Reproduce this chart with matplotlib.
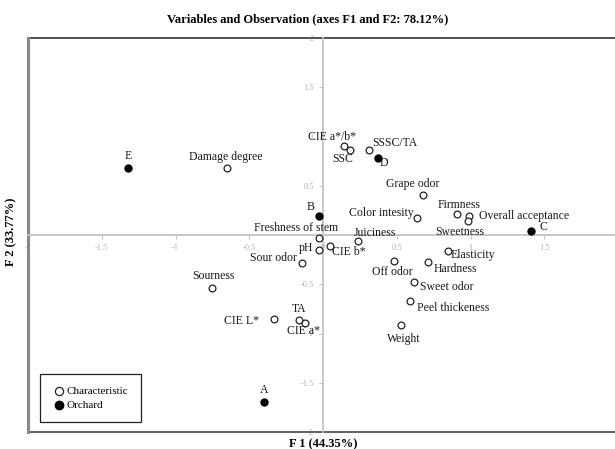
import matplotlib
matplotlib.use('Agg')
import matplotlib.pyplot as plt
import numpy as np

plt.rcParams['font.family'] = ['Liberation Serif', 'DejaVu Serif']

# variables (characteristics)
var_names = ['Damage degree', 'Sourness', 'CIE a*/b*', 'SSC', 'SSSC/TA', 'Grape odor',
             'Firmness', 'Overall acceptance', 'Sweetness', 'Color intesity',
             'Freshness of stem', 'Juiciness', 'pH', 'CIE b*', 'Sour odor', 'Off odor',
             'Hardness', 'Elasticity', 'Sweet odor', 'Peel thickeness', 'Weight',
             'TA', 'CIE a*', 'CIE L*']
var_f1 = [-0.65, -0.75, 0.14, 0.18, 0.31, 0.68,
          0.91, 0.99, 0.98, 0.64,
          -0.03, 0.24, -0.03, 0.05, -0.14, 0.48,
          0.71, 0.85, 0.62, 0.59, 0.53,
          -0.16, -0.12, -0.33]
var_f2 = [0.68, -0.54, 0.90, 0.86, 0.86, 0.41,
          0.21, 0.19, 0.14, 0.17,
          -0.03, -0.06, -0.15, -0.11, -0.28, -0.26,
          -0.27, -0.16, -0.48, -0.67, -0.91,
          -0.86, -0.89, -0.85]

# observations (orchards)
obs_names = ['A', 'B', 'C', 'D', 'E']
obs_f1 = [-0.40, -0.03, 1.41, 0.37, -1.32]
obs_f2 = [-1.70, 0.19, 0.04, 0.78, 0.68]

# label offsets in pixels (dx, dy)
var_off = {'Damage degree': (-1, 11), 'Sourness': (1, 12), 'CIE a*/b*': (-12, 9),
           'SSC': (-7, -9), 'SSSC/TA': (26, 7), 'Grape odor': (-11, 11),
           'Firmness': (2, 9), 'Overall acceptance': (55, 0), 'Sweetness': (-8, -11),
           'Color intesity': (-36, 5), 'Freshness of stem': (-23, 10),
           'Juiciness': (16, 8), 'pH': (-13, 2), 'CIE b*': (18, -6),
           'Sour odor': (-29, 5), 'Off odor': (-1, -11), 'Hardness': (28, -7),
           'Elasticity': (25, -4), 'Sweet odor': (32, -5), 'Peel thickeness': (43, -7),
           'Weight': (3, -14), 'TA': (0, 11), 'CIE a*': (-2, -8), 'CIE L*': (-33, -2)}
obs_off = {'A': (0, 12), 'B': (-8, 9), 'C': (12, 4), 'D': (6, -5), 'E': (0, 12)}

fig = plt.figure(figsize=(6.15, 4.49), dpi=100)
ax = fig.add_axes([28/615, 17/449, 590/615, 394/449])

ax.scatter(var_f1, var_f2, s=24, facecolors='white', edgecolors='#222222',
           linewidths=0.9, zorder=3, label='Characteristic')
ax.scatter(obs_f1, obs_f2, s=26, facecolors='black', edgecolors='black',
           linewidths=0.9, zorder=3, label='Orchard')

for n, x, y in zip(var_names, var_f1, var_f2):
    ax.annotate(n, (x, y), xytext=var_off[n], textcoords='offset pixels',
                ha='center', va='center', fontsize=8.5, color='#1a1a1a')
for n, x, y in zip(obs_names, obs_f1, obs_f2):
    ax.annotate(n, (x, y), xytext=obs_off[n], textcoords='offset pixels',
                ha='center', va='center', fontsize=8.5, color='#1a1a1a')

ax.set_xlim(-2, 2)
ax.set_ylim(-2, 2)

# zero lines carry the ticks
for s in ['left', 'bottom']:
    ax.spines[s].set_position('zero')
    ax.spines[s].set_color('#c4c4c4')
    ax.spines[s].set_linewidth(1.3)
for s in ['top', 'right']:
    ax.spines[s].set_visible(False)

ax.set_xticks(np.arange(-2, 1.51, 0.5))
ax.set_xticklabels(['-2', '-1.5', '-1', '-0.5', '0', '0.5', '1', '1.5'])
ax.set_yticks([-2, -1.5, -1, -0.5, 0.5, 1, 1.5, 2])
ax.set_yticklabels(['-2', '-1.5', '-1', '-0.5', '0.5', '1', '1.5', '2'])
ax.tick_params(colors='#c4c4c4', labelcolor='#b0b0b0', labelsize=6, length=3, width=0.8)

# outer frame
ax.plot([0, 1], [1, 1], transform=ax.transAxes, color='#444444', lw=1.3, clip_on=False)
ax.plot([0, 1], [0, 0], transform=ax.transAxes, color='#555555', lw=1.3, clip_on=False)
ax.plot([0, 0], [0, 1], transform=ax.transAxes, color='#888888', lw=2.2, clip_on=False)

fig.text(0.5, 1 - 19/449, 'Variables and Observation (axes F1 and F2: 78.12%)',
         ha='center', va='center', fontsize=9, fontweight='bold')
fig.text(323/615, 1 - 444/449, 'F 1 (44.35%)', ha='center', va='center',
         fontsize=9, fontweight='bold')
fig.text(11/615, 1 - 232/449, 'F 2 (33.77%)', ha='center', va='center',
         rotation=90, fontsize=9, fontweight='bold')

leg = ax.legend(loc='lower left', bbox_to_anchor=(12/590, 10/394), borderaxespad=0,
                fancybox=False, framealpha=1, edgecolor='#222222', fontsize=8,
                handletextpad=0.1, handlelength=1.2, borderpad=1.1, labelspacing=0.35,
                markerscale=1.2)
leg.get_frame().set_linewidth(0.9)

fig.savefig('out.png', dpi=100)
